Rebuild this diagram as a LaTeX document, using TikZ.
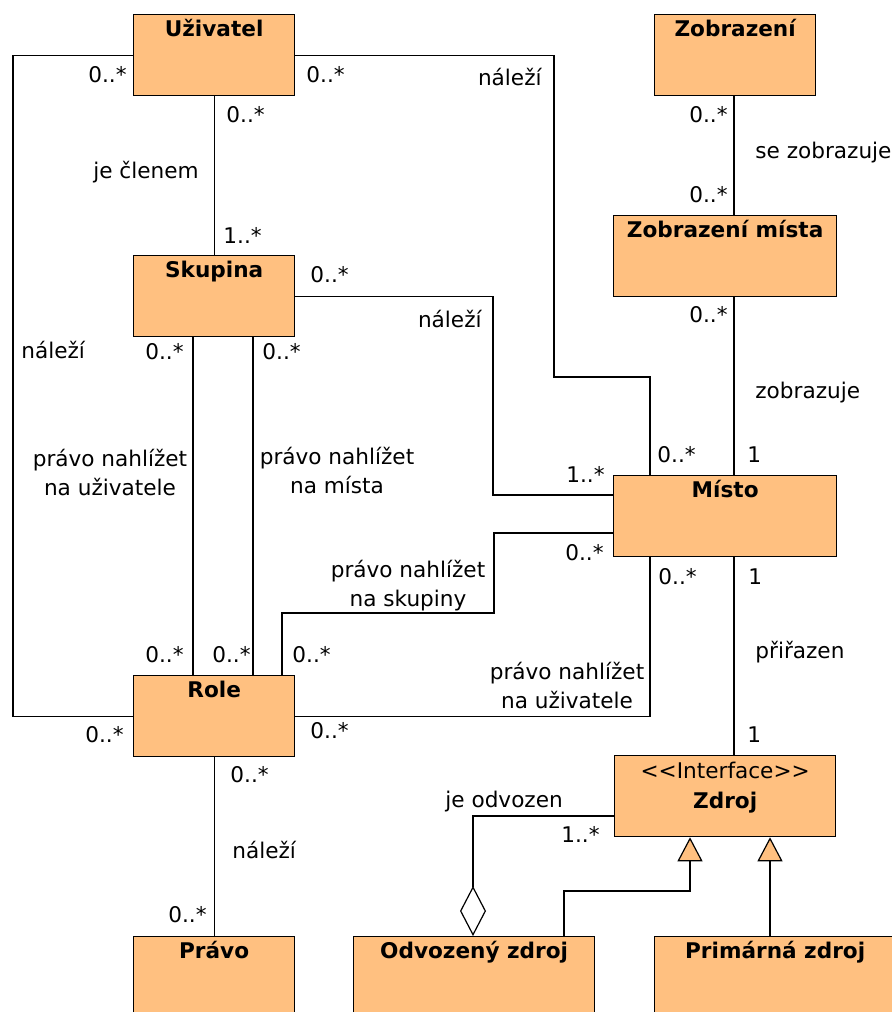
\documentclass[tikz,border=0pt]{standalone}
\usepackage{fontspec}
\setmainfont{DejaVu Sans}
\usetikzlibrary{arrows.meta}
\definecolor{boxfill}{RGB}{255,192,128}
\tikzset{
  cls/.style={draw, fill=boxfill, line width=0.65pt, anchor=north west,
    font=\fontsize{10.8}{13}\selectfont\bfseries,
    inner xsep=0pt, inner ysep=0pt, text height=11pt, text depth=29.5pt,
    minimum width=80.5pt},
  lbl/.style={inner sep=0pt, font=\fontsize{10.8}{14.5}\selectfont},
  lbl2/.style={lbl, align=center},
  assoc/.style={line width=0.6pt},
  gen/.style={line width=0.6pt, -{Triangle[length=12pt, width=12.5pt, fill=boxfill]}},
  agg/.style={line width=0.6pt, -{Diamond[open, length=25pt, width=13pt]}}
}
\begin{document}
\begin{tikzpicture}[x=0.5pt, y=-0.5pt]
\useasboundingbox (0,0) rectangle (892,1012);
% classes
\node[cls] (uzivatel) at (133,14) {Uživatel};
\node[cls] (zobrazeni) at (654,14) {Zobrazení};
\node[cls] (skupina) at (133,255) {Skupina};
\node[cls, minimum width=111.5pt] (zobmista) at (613,215) {Zobrazení místa};
\node[cls, minimum width=111.5pt] (misto) at (613,475) {Místo};
\node[cls] (role) at (133,675) {Role};
\node[cls, minimum width=110.5pt, text height=11.5pt, text depth=29pt] (zdroj) at (614,755)
  {\begin{tabular}[t]{@{}c@{}}\mdseries<{}<Interface>{}>\\[2pt]Zdroj\end{tabular}};
\node[cls] (pravo) at (133,936) {Právo};
\node[cls, minimum width=120.5pt] (odvozeny) at (353,936) {Odvozený zdroj};
\node[cls, minimum width=120.5pt] (primarna) at (654,936) {Primárná zdroj};

% associations
\draw[assoc] (uzivatel.west) -| (13,385) |- (role.west);
\draw[assoc] (uzivatel.east) -| (554,377) -| (misto.north -| 650,0);
\draw[assoc] (uzivatel.south) -- (skupina.north);
\draw[assoc] (skupina.east) -| (493,495) -- (misto.west |- 0,495);
\draw[assoc] (skupina.south -| 193,0) -- (role.north -| 193,0);
\draw[assoc] (skupina.south -| 253,0) -- (role.north -| 253,0);
\draw[assoc] (role.north -| 282,0) |- (494,613) |- (misto.west |- 0,533);
\draw[assoc] (role.east) -| (misto.south -| 650,0);
\draw[assoc] (role.south) -- (pravo.north);
\draw[assoc] (zobrazeni.south -| 734,0) -- (zobmista.north -| 734,0);
\draw[assoc] (zobmista.south -| 734,0) -- (misto.north -| 734,0);
\draw[assoc] (misto.south -| 734,0) -- (zdroj.north -| 734,0);
\draw[agg] (zdroj.west |- 0,816) -| (odvozeny.north -| 473,0);
\draw[gen] (odvozeny.north -| 564,0) |- (690,891) -- (zdroj.south -| 690,0);
\draw[gen] (primarna.north -| 770,0) -- (zdroj.south -| 770,0);

% multiplicities and names
\node[lbl, anchor=base east] (m1) at (127,82) {0..*};
\node[lbl, anchor=base west] (m2) at (306,82) {0..*};
\node[lbl, anchor=base east] (n1) at (542,85) {náleží};
\node[lbl, anchor=base west] (m3) at (226,122) {0..*};
\node[lbl, anchor=base east] (n2) at (199,178) {je členem};
\node[lbl, anchor=base west] (m4) at (223,243) {1..*};
\node[lbl, anchor=base west] (m5) at (310,282) {0..*};
\node[lbl, anchor=base east] (n3) at (482,327) {náleží};
\node[lbl, anchor=base west] (n4) at (21,358) {náleží};
\node[lbl, anchor=base east] (m6) at (184,359) {0..*};
\node[lbl, anchor=base west] (m7) at (262,359) {0..*};
\node[lbl2] (n5) at (110,473) {právo nahlížet\\na uživatele};
\node[lbl2] (n6) at (337,471) {právo nahlížet\\na místa};
\node[lbl2] (n7) at (408,586) {právo nahlížet\\na skupiny};
\node[lbl2] (n8) at (567,686) {právo nahlížet\\na uživatele};
\node[lbl, anchor=base east] (m8) at (184,662) {0..*};
\node[lbl, anchor=base east] (m9) at (251,662) {0..*};
\node[lbl, anchor=base west] (m10) at (292,662) {0..*};
\node[lbl, anchor=base east] (m11) at (124,742) {0..*};
\node[lbl, anchor=base west] (m12) at (310,738) {0..*};
\node[lbl, anchor=base west] (m13) at (230,782) {0..*};
\node[lbl, anchor=base west] (n9) at (232,858) {náleží};
\node[lbl, anchor=base east] (m14) at (207,922) {0..*};
\node[lbl, anchor=base east] (m15) at (728,122) {0..*};
\node[lbl, anchor=base west] (n10) at (755,158) {se zobrazuje};
\node[lbl, anchor=base east] (m16) at (728,202) {0..*};
\node[lbl, anchor=base east] (m17) at (728,322) {0..*};
\node[lbl, anchor=base west] (n11) at (755,398) {zobrazuje};
\node[lbl, anchor=base west] (m18) at (657,462) {0..*};
\node[lbl, anchor=base west] (m19) at (747,462) {1};
\node[lbl, anchor=base east] (m20) at (605,482) {1..*};
\node[lbl, anchor=base east] (m21) at (604,560) {0..*};
\node[lbl, anchor=base west] (m22) at (658,584) {0..*};
\node[lbl, anchor=base west] (m23) at (748,584) {1};
\node[lbl, anchor=base west] (n12) at (755,658) {přiřazen};
\node[lbl, anchor=base west] (m24) at (747,742) {1};
\node[lbl, anchor=base west] (n13) at (445,807) {je odvozen};
\node[lbl, anchor=base east] (m25) at (600,842) {1..*};
\end{tikzpicture}
\end{document}
